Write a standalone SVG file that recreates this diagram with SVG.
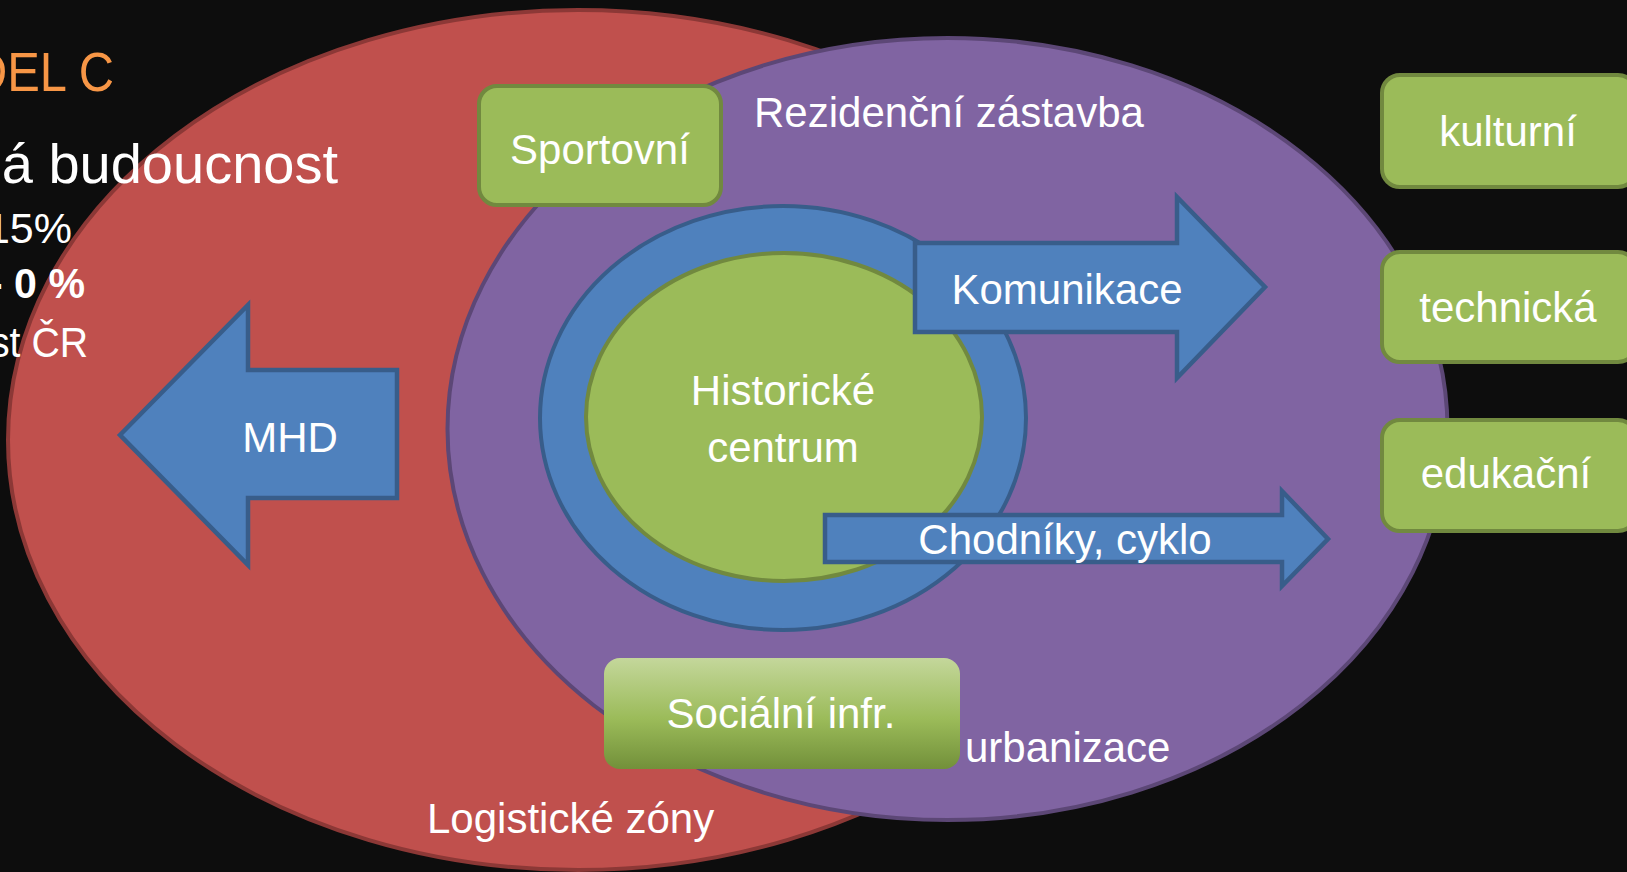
<svg xmlns="http://www.w3.org/2000/svg" width="1627" height="872" viewBox="0 0 1627 872">
  <defs>
    <linearGradient id="socGrad" x1="0" y1="0" x2="0" y2="1">
      <stop offset="0" stop-color="#c4d79b"/>
      <stop offset="0.55" stop-color="#9bbb59"/>
      <stop offset="1" stop-color="#72903a"/>
    </linearGradient>
    <style>
      .lbl { font-family: "Liberation Sans", Arial, sans-serif; font-size: 42px; fill: #ffffff; }
      .mid { text-anchor: middle; }
      .side { font-family: "Liberation Sans", Arial, sans-serif; fill: #ffffff; text-anchor: end; }
      .title { fill: #f79646; }
      .gbox { fill: #9bbb59; stroke: #71893f; stroke-width: 4; }
      .barrow { fill: #4f81bd; stroke: #385d8a; stroke-width: 4.5; stroke-linejoin: miter; }
    </style>
  </defs>

  <rect x="0" y="0" width="1627" height="872" fill="#0d0d0d"/>

  <g id="logistika">
    <ellipse cx="578" cy="440" rx="570" ry="430" fill="#c0504d" stroke="#8c3836" stroke-width="4"/>
  </g>

  <g id="urbanizace">
    <ellipse cx="947.5" cy="429" rx="500" ry="391" fill="#8064a2" stroke="#5c4776" stroke-width="4"/>
  </g>

  <g id="title-text">
    <text class="side title" x="114" y="91" font-size="56" textLength="142" lengthAdjust="spacingAndGlyphs">DEL C</text>
    <text class="side" x="338" y="183" font-size="56">á budoucnost</text>
    <text class="side" x="72" y="243" font-size="43">15%</text>
    <text class="side" x="85" y="298" font-size="43" font-weight="bold" textLength="96" lengthAdjust="spacingAndGlyphs">- 0 %</text>
    <text class="side" x="88" y="357" font-size="43" textLength="98" lengthAdjust="spacingAndGlyphs">st ČR</text>
  </g>

  <g id="sportovni">
    <rect class="gbox" x="479" y="86" width="242" height="119" rx="18"/>
    <text class="lbl mid" x="600" y="164">Sportovní</text>
  </g>

  <g id="komunikace-ring">
    <ellipse cx="783" cy="418" rx="243" ry="212" fill="#4f81bd" stroke="#385d8a" stroke-width="4"/>
  </g>

  <g id="historicke-centrum">
    <ellipse cx="784" cy="417" rx="198" ry="164" fill="#9bbb59" stroke="#71893f" stroke-width="4"/>
    <text class="lbl mid" x="783" y="405">Historické</text>
    <text class="lbl mid" x="783" y="462">centrum</text>
  </g>

  <g id="mhd">
    <polygon class="barrow" points="120,435 248,305 248,370 397,370 397,498 248,498 248,565"/>
    <text class="lbl mid" x="290" y="452">MHD</text>
  </g>

  <g id="komunikace">
    <polygon class="barrow" points="915,243 1177,243 1177,197 1265,287 1177,378 1177,332 915,332"/>
    <text class="lbl mid" x="1067" y="304">Komunikace</text>
  </g>

  <g id="chodniky">
    <polygon class="barrow" points="825,515 1282,515 1282,491 1328,539 1282,586 1282,562 825,562"/>
    <text class="lbl mid" x="1065" y="554">Chodníky, cyklo</text>
  </g>

  <g id="socialni">
    <rect x="604" y="658" width="356" height="111" rx="16" fill="url(#socGrad)"/>
    <text class="lbl mid" x="781" y="728">Sociální infr.</text>
  </g>

  <g id="labels">
    <text class="lbl" x="754" y="127">Rezidenční zástavba</text>
    <text class="lbl" x="965" y="762">urbanizace</text>
    <text class="lbl" x="427" y="833">Logistické zóny</text>
  </g>

  <g id="kulturni">
    <rect class="gbox" x="1382" y="75" width="254" height="112" rx="18"/>
    <text class="lbl mid" x="1508" y="146">kulturní</text>
  </g>
  <g id="technicka">
    <rect class="gbox" x="1382" y="252" width="254" height="110" rx="18"/>
    <text class="lbl mid" x="1508" y="322">technická</text>
  </g>
  <g id="edukacni">
    <rect class="gbox" x="1382" y="420" width="254" height="111" rx="18"/>
    <text class="lbl mid" x="1506" y="488">edukační</text>
  </g>

  <g id="connectors"></g>
</svg>
